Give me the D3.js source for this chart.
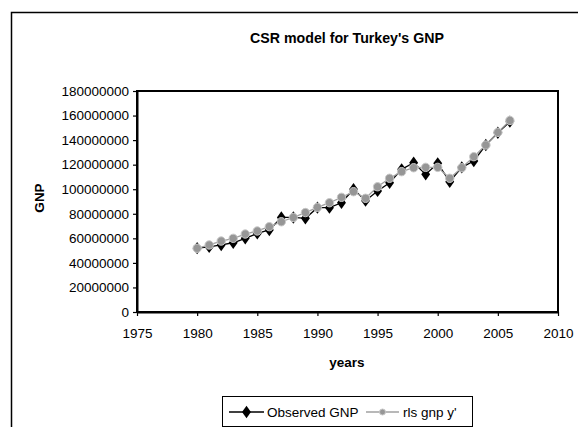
<!DOCTYPE html>
<html><head><meta charset="utf-8">
<script src="https://cdn.jsdelivr.net/npm/d3@7"></script>
<style>body{margin:0;background:#fff;} svg{display:block;font-family:"Liberation Sans",Arial,sans-serif;}</style>
</head><body>
<script>
const years = [1980,1981,1982,1983,1984,1985,1986,1987,1988,1989,1990,1991,1992,1993,1994,1995,1996,1997,1998,1999,2000,2001,2002,2003,2004,2005,2006];
const observedGNP = [52,53,54.6,56.4,60,64,66.8,77,77,76.3,85,85,89,100,90.7,98.6,105.3,116.2,121.6,112.1,121.1,106.1,117.8,123,136,146,155].map(v=>v*1e6);
const rlsGNP = [51.9,54.6,57.8,60,63.5,66,69.5,73.5,77,81,85.2,89,93.4,98,92.6,102,108.9,114.3,117.5,117.8,117.8,108.9,117.5,126.5,136,146.3,156].map(v=>v*1e6);
const yTicks = [0,20000000,40000000,60000000,80000000,100000000,120000000,140000000,160000000,180000000];
const xTicks = [1975,1980,1985,1990,1995,2000,2005,2010];
const seriesNames = ["Observed GNP","rls gnp y'"];

const W=578,H=427;
const svg=d3.select("body").append("svg").attr("width",W).attr("height",H);
svg.append("rect").attr("x",11.5).attr("y",12.5).attr("width",620).attr("height",520).attr("fill","#fff").attr("stroke","#000").attr("stroke-width",1.5);

const L=137,R=558,T=91,B=312;
const x=d3.scaleLinear().domain([1975,2010]).range([L,R]);
const y=d3.scaleLinear().domain([0,180000000]).range([B,T]);
const FS=13.5;

svg.append("text").attr("x",347).attr("y",43).attr("text-anchor","middle").attr("font-weight","bold").attr("font-size",14.2).text("CSR model for Turkey's GNP");

// plot border
svg.append("rect").attr("x",L).attr("y",T).attr("width",R-L).attr("height",B-T).attr("fill","none").attr("stroke","#000").attr("stroke-width",2);

const yAxis=d3.axisLeft(y).tickValues(yTicks).tickSize(4).tickSizeOuter(0).tickFormat(d3.format("d"));
const gy=svg.append("g").attr("transform",`translate(${L},0)`).call(yAxis);
gy.select(".domain").attr("stroke-width",2);
gy.selectAll("line").attr("stroke-width",1.2);
gy.selectAll("text").attr("font-size",FS).attr("fill","#000").attr("font-family","Liberation Sans, Arial, sans-serif").attr("x",-8);

const xAxis=d3.axisBottom(x).tickValues(xTicks).tickSize(4).tickSizeOuter(0).tickFormat(d3.format("d"));
const gx=svg.append("g").attr("transform",`translate(0,${B})`).call(xAxis);
gx.select(".domain").attr("stroke-width",2);
gx.selectAll("line").attr("stroke-width",1.2);
gx.selectAll("text").attr("font-size",FS).attr("fill","#000").attr("font-family","Liberation Sans, Arial, sans-serif").attr("y",16).attr("dy","0.71em");

svg.append("text").attr("x",347).attr("y",367).attr("text-anchor","middle").attr("font-weight","bold").attr("font-size",FS).text("years");
svg.append("text").attr("transform","translate(44,198) rotate(-90)").attr("text-anchor","middle").attr("font-weight","bold").attr("font-size",FS).text("GNP");

const line=d3.line().x((d,i)=>x(years[i])).y(d=>y(d));
const diamond=d3.symbol().type(d3.symbolDiamond).size(44);

// observed
svg.append("path").datum(observedGNP).attr("d",line).attr("fill","none").attr("stroke","#000").attr("stroke-width",1.3);
svg.selectAll(".obs").data(observedGNP).enter().append("path").attr("d",diamond)
  .attr("transform",(d,i)=>`translate(${x(years[i])},${y(d)}) scale(1.25,1)`).attr("fill","#000");

// rls
svg.append("path").datum(rlsGNP).attr("d",line).attr("fill","none").attr("stroke","#a0a0a0").attr("stroke-width",1.3);
svg.selectAll(".rls").data(rlsGNP).enter().append("circle").attr("cx",(d,i)=>x(years[i])).attr("cy",d=>y(d)).attr("r",4.2)
  .attr("fill","#969696").attr("stroke","#c8c8c8").attr("stroke-width",1);

// legend
const lg=svg.append("g");
lg.append("rect").attr("x",222.5).attr("y",396.5).attr("width",250).attr("height",30).attr("fill","#fff").attr("stroke","#000").attr("stroke-width",1);
lg.append("line").attr("x1",229).attr("x2",264).attr("y1",412).attr("y2",412).attr("stroke","#000").attr("stroke-width",1.3);
lg.append("path").attr("d",diamond).attr("transform","translate(246.5,412) scale(1.25,1)").attr("fill","#000");
lg.append("text").attr("x",267).attr("y",417).attr("font-size",FS).text(seriesNames[0]);
lg.append("line").attr("x1",366).attr("x2",399).attr("y1",412).attr("y2",412).attr("stroke","#a0a0a0").attr("stroke-width",1.3);
lg.append("circle").attr("cx",382.5).attr("cy",412).attr("r",3).attr("fill","#969696").attr("stroke","#c8c8c8");
lg.append("text").attr("x",403).attr("y",417).attr("font-size",FS).text(seriesNames[1]);
</script>
</body></html>
